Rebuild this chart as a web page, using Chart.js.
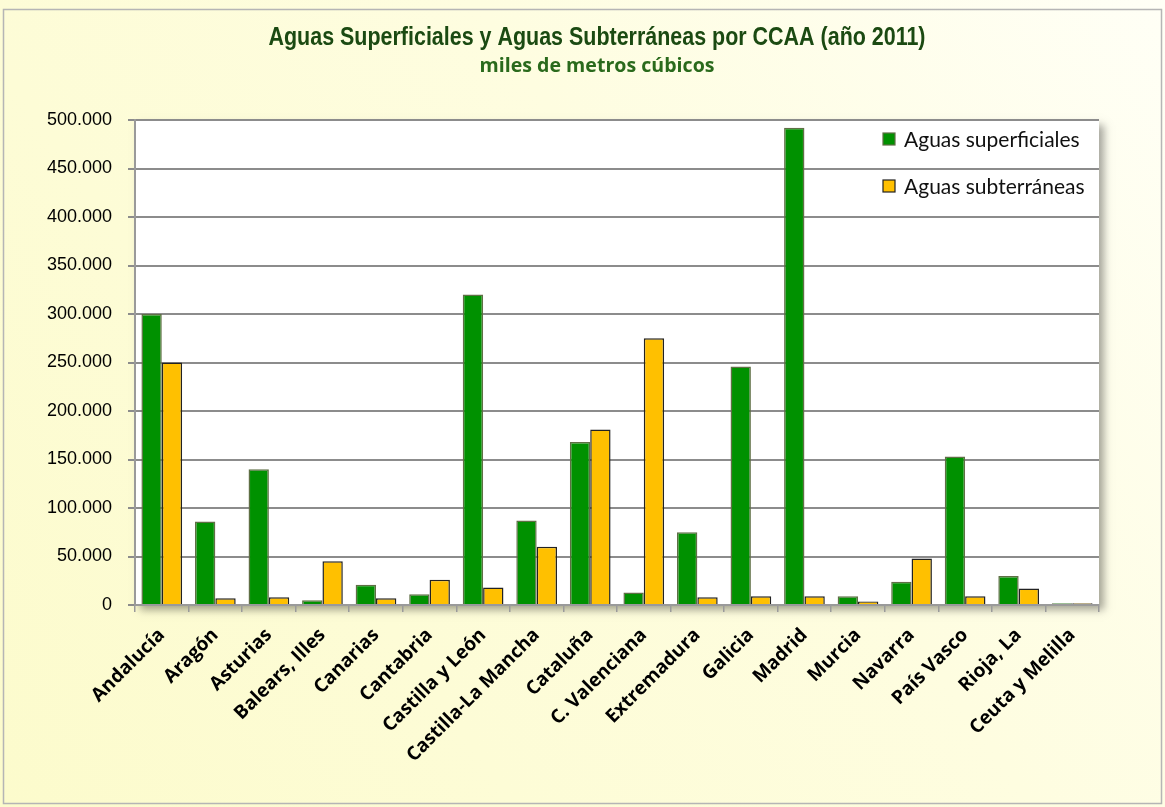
<!DOCTYPE html>
<html>
<head>
<meta charset="utf-8">
<title>Aguas Superficiales y Aguas Subterráneas por CCAA</title>
<script src="https://cdn.jsdelivr.net/npm/chart.js"></script>
<style>
  html, body { margin: 0; padding: 0; background: #fff; }
  #wrap { width: 1165px; height: 807px; }
</style>
</head>
<body>
<div id="wrap"><canvas id="myChart" width="1165" height="807"></canvas></div>
<script>
// datos (miles de m3)
const comunidades = ['Andalucía', 'Aragón', 'Asturias', 'Balears, Illes', 'Canarias', 'Cantabria',
    'Castilla y León', 'Castilla-La Mancha', 'Cataluña', 'C. Valenciana', 'Extremadura', 'Galicia',
    'Madrid', 'Murcia', 'Navarra', 'País Vasco', 'Rioja, La', 'Ceuta y Melilla'];
const superficiales = [300000, 86000, 140000, 5000, 21000, 11000, 320000, 87000, 168000, 13000,
    75000, 246000, 492000, 9000, 24000, 153000, 30000, 1800];
const subterraneas = [250000, 7000, 8000, 45000, 7000, 26000, 18000, 60000, 181000, 275000,
    8000, 9000, 9000, 3500, 48000, 9000, 17000, 1800];
const seriesNames = ['Aguas superficiales', 'Aguas subterráneas'];
const titulo = 'Aguas Superficiales y Aguas Subterráneas por CCAA (año 2011)';
const subtitulo = 'miles de metros cúbicos';
const yMax = 500000, yStep = 50000;

function fmt(v) {
    return String(v).replace(/\B(?=(\d{3})+(?!\d))/g, '.');
}

// fondo, marco y sombra del area de grafico
const fondo = {
    id: 'fondo',
    beforeDraw(chart) {
        const ctx = chart.ctx, a = chart.chartArea;
        ctx.save();
        const g = ctx.createLinearGradient(0, chart.height, chart.width, 0);
        g.addColorStop(0, '#fcfbcc');
        g.addColorStop(0.6, '#fefde0');
        g.addColorStop(1, '#fffff6');
        ctx.fillStyle = g;
        ctx.fillRect(0, 0, chart.width, chart.height);
        ctx.strokeStyle = '#b5b5b5';
        ctx.lineWidth = 1.5;
        ctx.strokeRect(3.5, 9.5, chart.width - 7, chart.height - 13);
        ctx.shadowColor = 'rgba(0,0,0,0.35)';
        ctx.shadowBlur = 8;
        ctx.shadowOffsetX = 5;
        ctx.shadowOffsetY = 5;
        ctx.fillStyle = '#ffffff';
        ctx.fillRect(a.left, a.top, a.right - a.left, a.bottom - a.top);
        ctx.restore();
    }
};

// titulo y leyenda
const textos = {
    id: 'textos',
    afterDraw(chart) {
        const ctx = chart.ctx;
        ctx.save();
        ctx.textAlign = 'center';
        ctx.textBaseline = 'middle';
        // titulo estrecho: se comprime en horizontal hasta su ancho
        ctx.fillStyle = '#1b4a12';
        ctx.font = 'bold 25px "Liberation Sans", sans-serif';
        const w = ctx.measureText(titulo).width;
        ctx.save();
        ctx.translate(597, 38);
        ctx.scale(657 / w, 1);
        ctx.fillText(titulo, 0, 0);
        ctx.restore();
        ctx.fillStyle = '#2a6a1c';
        ctx.font = 'bold 19px "Open Sans", sans-serif';
        const w2 = ctx.measureText(subtitulo).width;
        ctx.save();
        ctx.translate(597, 67);
        ctx.scale(235 / w2, 1);
        ctx.fillText(subtitulo, 0, 0);
        ctx.restore();

        ctx.textAlign = 'left';
        ctx.font = '21px Lato, sans-serif';
        chart.data.datasets.forEach((ds, i) => {
            const y = 139 + i * 47;
            ctx.fillStyle = ds.backgroundColor;
            ctx.fillRect(883, y - 6, 12, 12);
            ctx.strokeStyle = ds.borderColor;
            ctx.lineWidth = 1.2;
            ctx.strokeRect(883, y - 6, 12, 12);
            ctx.fillStyle = '#111';
            ctx.fillText(ds.label, 904, y + 1);
        });
        ctx.restore();
    }
};

const ctx = document.getElementById('myChart').getContext('2d');
new Chart(ctx, {
    type: 'bar',
    data: {
        labels: comunidades,
        datasets: [{
            label: seriesNames[0],
            data: superficiales,
            backgroundColor: '#009100',
            borderColor: '#5f6f45',
            borderWidth: 1.5,
            borderSkipped: 'bottom'
        }, {
            label: seriesNames[1],
            data: subterraneas,
            backgroundColor: '#ffc000',
            borderColor: '#222222',
            borderWidth: 1.5,
            borderSkipped: 'bottom'
        }]
    },
    options: {
        responsive: false,
        animation: false,
        devicePixelRatio: 1,
        categoryPercentage: 0.76,
        barPercentage: 1.0,
        layout: { padding: { top: 120, right: 66, left: 0, bottom: 0 } },
        plugins: {
            legend: { display: false },
            title: { display: false },
            tooltip: { enabled: false }
        },
        scales: {
            x: {
                afterFit(scale) { scale.height = 202; },
                grid: {
                    drawOnChartArea: false,
                    drawTicks: true,
                    tickLength: 7,
                    color: '#9a9a9a',
                    lineWidth: 1.5
                },
                border: { color: '#9a9a9a', width: 2 },
                ticks: {
                    minRotation: 45,
                    maxRotation: 45,
                    autoSkip: false,
                    padding: 12,
                    color: '#000',
                    font: { family: '"Open Sans", sans-serif', size: 19, weight: 'bold' }
                }
            },
            y: {
                min: 0,
                max: yMax,
                afterFit(scale) { scale.width = 135; },
                grid: {
                    color: '#8c8c8c',
                    lineWidth: 2,
                    tickLength: 7
                },
                border: { color: '#9a9a9a', width: 2 },
                ticks: {
                    stepSize: yStep,
                    padding: 16,
                    color: '#000',
                    font: { family: '"Liberation Sans", Arial, sans-serif', size: 18 },
                    callback: v => fmt(v)
                }
            }
        }
    },
    plugins: [fondo, textos]
});
</script>
</body>
</html>
